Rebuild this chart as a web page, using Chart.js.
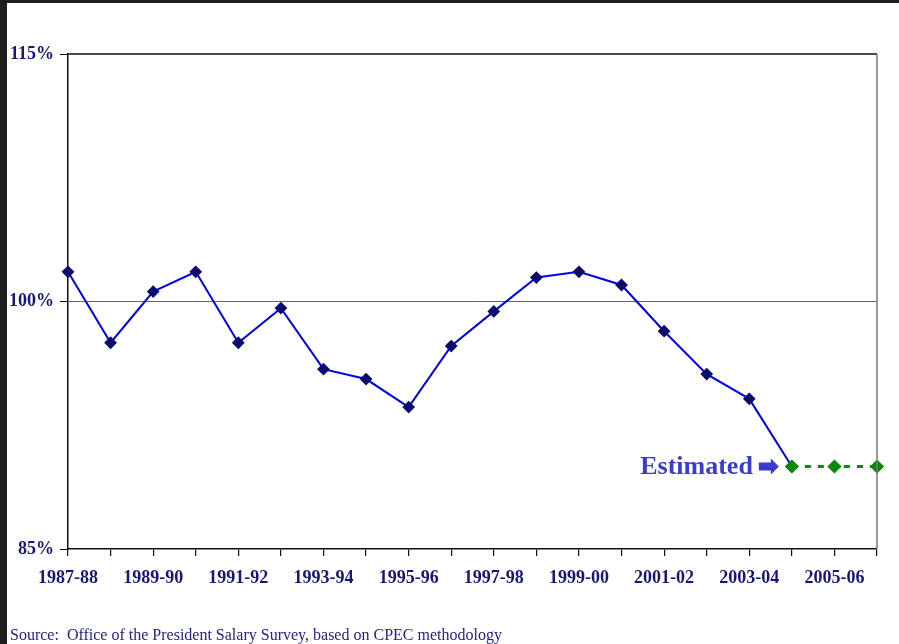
<!DOCTYPE html>
<html>
<head>
<meta charset="utf-8">
<script src="https://cdn.jsdelivr.net/npm/chart.js@4"></script>
<style>
  html, body { margin: 0; padding: 0; background: #1e1e1e; width: 899px; height: 644px; overflow: hidden; }
  #wrap { position: absolute; left: 7px; top: 3px; width: 892px; height: 641px; background: #fff; }
</style>
</head>
<body>
<div id="wrap"><canvas id="salaryChart" width="892" height="641"></canvas></div>
<script>
// school years on the x axis
const years = ["1987-88", "1988-89", "1989-90", "1990-91", "1991-92", "1992-93", "1993-94",
  "1994-95", "1995-96", "1996-97", "1997-98", "1998-99", "1999-00", "2000-01", "2001-02",
  "2002-03", "2003-04", "2004-05", "2005-06", "2006-07"];
// actual values (percent of comparison)
const actual = [101.8, 97.5, 100.6, 101.8, 97.5, 99.6, 95.9, 95.3, 93.6, 97.3, 99.4, 101.45,
  101.8, 101.0, 98.2, 95.6, 94.1, 90.0, null, null];
// estimated values
const estimated = [null, null, null, null, null, null, null, null, null, null, null, null,
  null, null, null, null, null, 90.0, 90.0, 90.0];
const yTicks = [85, 100, 115];

const navy = "#17177a";

// top/right frame, Estimated label, source line
const extras = {
  id: "extras",
  afterDatasetsDraw(chart) {
    const { ctx, chartArea: a } = chart;
    ctx.save();
    ctx.lineWidth = 1.5;
    ctx.strokeStyle = "#111";
    ctx.beginPath();
    ctx.moveTo(a.left, a.top);
    ctx.lineTo(a.right, a.top);
    ctx.stroke();
    ctx.strokeStyle = "#777";
    ctx.beginPath();
    ctx.moveTo(a.right, a.top);
    ctx.lineTo(a.right, a.bottom);
    ctx.stroke();

    // Estimated label next to first estimated point
    const p = chart.getDatasetMeta(1).data[17];
    ctx.fillStyle = "#3b3bcc";
    ctx.font = "bold 26px 'Liberation Serif'";
    ctx.textAlign = "right";
    ctx.textBaseline = "middle";
    ctx.fillText("Estimated", p.x - 39, p.y + 1);
    // arrow
    const ax = p.x - 33, ay = p.y;
    ctx.beginPath();
    ctx.moveTo(ax, ay - 4);
    ctx.lineTo(ax + 12, ay - 4);
    ctx.lineTo(ax + 12, ay - 8);
    ctx.lineTo(ax + 20, ay);
    ctx.lineTo(ax + 12, ay + 8);
    ctx.lineTo(ax + 12, ay + 4);
    ctx.lineTo(ax, ay + 4);
    ctx.closePath();
    ctx.fill();

    ctx.fillStyle = "#22228a";
    ctx.font = "16px 'Liberation Serif'";
    ctx.textAlign = "left";
    ctx.textBaseline = "alphabetic";
    ctx.fillText("Source:  Office of the President Salary Survey, based on CPEC methodology", 3, 637);
    ctx.restore();
  }
};

new Chart(document.getElementById("salaryChart").getContext("2d"), {
  type: "line",
  data: {
    labels: years,
    datasets: [
      {
        label: "Actual",
        data: actual,
        order: 1,
        borderColor: "#0000f0",
        borderWidth: 2,
        pointStyle: "rectRot",
        pointRadius: 5,
        pointBackgroundColor: "#0c0c6e",
        pointBorderColor: "#0c0c6e",
        tension: 0,
        spanGaps: false
      },
      {
        label: "Estimated",
        data: estimated,
        order: 0,
        borderColor: "#078a07",
        borderWidth: 3,
        borderDash: [6, 7],
        pointStyle: "rectRot",
        pointRadius: 5,
        pointBackgroundColor: "#078a07",
        pointBorderColor: "#078a07",
        tension: 0
      }
    ]
  },
  options: {
    responsive: false,
    animation: false,
    layout: { padding: { top: 51, right: 22, left: 0, bottom: 0 } },
    plugins: {
      legend: { display: false },
      tooltip: { enabled: false }
    },
    scales: {
      x: {
        offset: false,
        afterFit: (s) => { s.height = 95; },
        border: { color: "#111", width: 1.5 },
        grid: { drawOnChartArea: false, tickLength: 7, tickColor: "#111", lineWidth: 1.2 },
        ticks: {
          autoSkip: false,
          maxRotation: 0,
          padding: 12,
          color: navy,
          font: { family: "'Liberation Serif'", weight: "bold", size: 18 },
          callback: (v, i) => (i % 2 === 0 ? years[i] : "")
        }
      },
      y: {
        min: 85,
        max: 115,
        afterFit: (s) => { s.width = 61; },
        afterBuildTicks: (s) => { s.ticks = yTicks.map((v) => ({ value: v })); },
        border: { color: "#111", width: 1.5 },
        grid: {
          tickLength: 8,
          tickColor: "#111",
          color: (c) => (c.tick && c.tick.value === 100 ? "#666" : "rgba(0,0,0,0)"),
          lineWidth: 1
        },
        ticks: {
          padding: 6,
          color: navy,
          font: { family: "'Liberation Serif'", weight: "bold", size: 18 },
          callback: (v) => v + "%"
        }
      }
    }
  },
  plugins: [extras]
});
</script>
</body>
</html>
